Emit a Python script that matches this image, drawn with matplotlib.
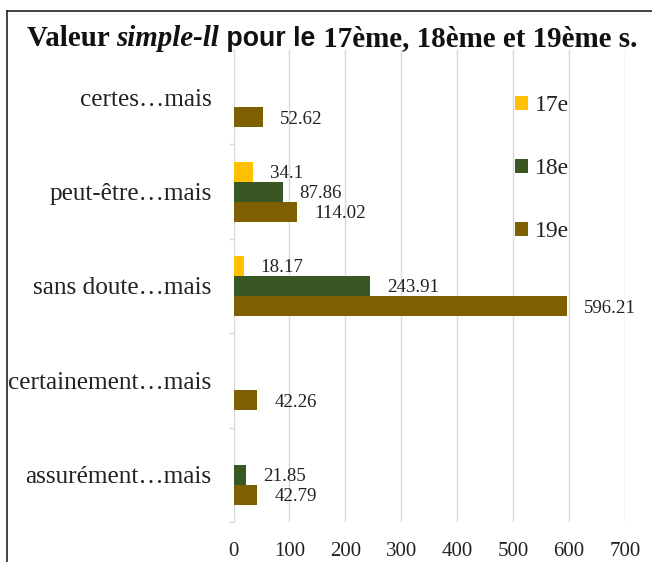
import numpy as np
import matplotlib
matplotlib.use("Agg")
import matplotlib.pyplot as plt
from matplotlib.lines import Line2D

# --- DATA ---
categories = ["certes…mais", "peut-être…mais", "sans doute…mais",
              "certainement…mais", "assurément…mais"]
series_names = ["17e", "18e", "19e"]
v17 = [0, 34.1, 18.17, 0, 0]
v18 = [0, 87.86, 243.91, 0, 21.85]
v19 = [52.62, 114.02, 596.21, 42.26, 42.79]
x_ticks = [0, 100, 200, 300, 400, 500, 600, 700]

colors = ["#FFC000", "#385723", "#7F6000"]
grid_c = "#D9D9D9"
W, H = 652, 562

plt.rcParams['font.family'] = ['Liberation Serif', 'DejaVu Serif']

fig = plt.figure(figsize=(W / 100, H / 100), dpi=100)
ax = fig.add_axes([233.5 / W, 1 - 522 / H, (625 - 233.5) / W, (522 - 50) / H])

y = np.arange(len(categories))
bh = 0.212
for i, (vals, name, c) in enumerate(zip([v17, v18, v19], series_names, colors)):
    pos = y + (i - 1) * bh
    ax.barh(pos, vals, height=bh, color=c, label=name, zorder=3)
    for p, v in zip(pos, vals):
        if v:
            ax.annotate(f"{v:g}", (v, p), xytext=(17, -2), textcoords="offset pixels",
                        va="center", ha="left", fontsize=13.6, color="#222222")

ax.set_xlim(0, 700)
ax.set_ylim(len(categories) - 0.5, -0.5)
ax.set_xticks(x_ticks)
ax.set_yticks(y)
ax.set_yticklabels(categories)
ax.set_yticks(np.arange(len(categories) + 1) - 0.5, minor=True)
ax.tick_params(axis="y", which="major", length=0, pad=15.8, labelsize=18.2, labelcolor="#222222")
ax.tick_params(axis="y", which="minor", length=3.6, color=grid_c, width=1, direction="out")
ax.tick_params(axis="x", length=0, pad=14.5, labelsize=15, labelcolor="#222222")
ax.grid(axis="x", color=grid_c, linewidth=1, zorder=0)
for s in ax.spines.values():
    s.set_visible(False)

leg = ax.legend(loc="upper left", bbox_to_anchor=(515 / W, 1 - 95 / H),
                bbox_transform=fig.transFigure, frameon=False, fontsize=17,
                handlelength=0.55, handleheight=0.55, handletextpad=0.3,
                labelspacing=1.78, borderpad=0, borderaxespad=0)
for t in leg.get_texts():
    t.set_color("#222222")

# title built from pieces (mixed fonts)
pieces = [("Valeur ", dict(weight="bold", fontsize=20.9)),
          ("simple-ll", dict(weight="bold", style="italic", fontsize=20.9)),
          (" pour le", dict(weight="bold", fontsize=19.3, family=["Liberation Sans Narrow", "Liberation Sans"])),
          (" 17ème, 18ème et 19ème s.", dict(weight="bold", fontsize=20.9))]
fig.canvas.draw()
r = fig.canvas.get_renderer()
x0 = 27
for txt, kw in pieces:
    t = fig.text(x0 / W, 1 - 46 / H, txt, color="#111111",
                 va="baseline", ha="left", **kw)
    x0 += t.get_window_extent(r).width

# outer frame (left and top only visible)
fig.add_artist(Line2D([6.7 / W, 6.7 / W], [0, 1 - 10.7 / H], transform=fig.transFigure,
                      color="#222222", linewidth=1.2))
fig.add_artist(Line2D([6.7 / W, 1], [1 - 10.7 / H, 1 - 10.7 / H], transform=fig.transFigure,
                      color="#222222", linewidth=1.2))

fig.savefig("out.png", dpi=100)
